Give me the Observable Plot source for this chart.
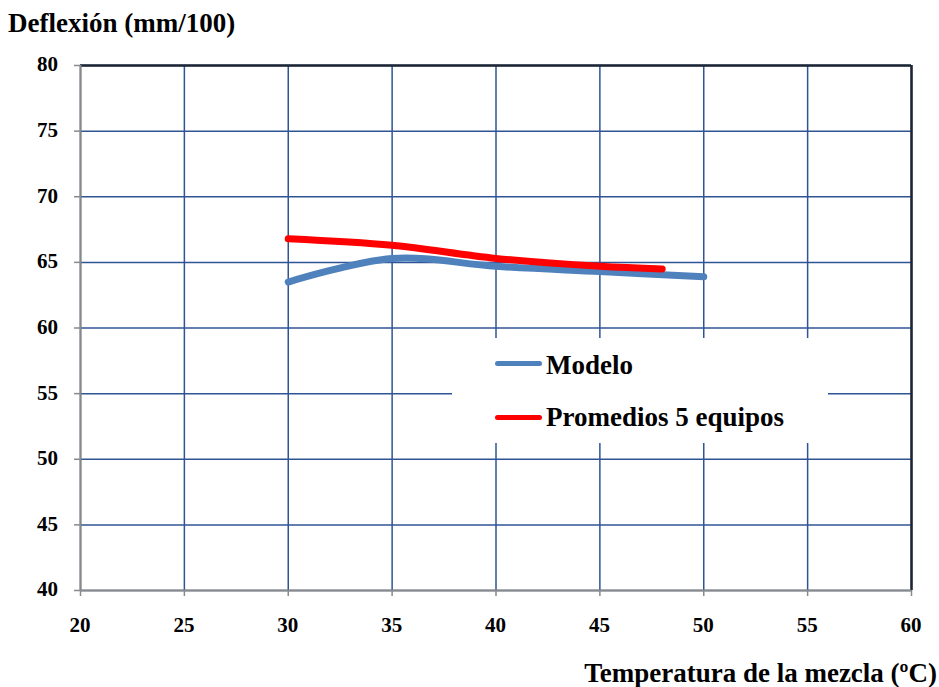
<!DOCTYPE html>
<html>
<head>
<meta charset="utf-8">
<script src="https://cdn.jsdelivr.net/npm/d3@7"></script>
<script src="https://cdn.jsdelivr.net/npm/@observablehq/plot@0.6"></script>
<style>
  html, body { margin: 0; padding: 0; background: #fff; }
  #wrap { position: relative; width: 939px; height: 687px; font-family: "Liberation Serif", "Times New Roman", serif; font-weight: bold; color: #000; }
  #title { position: absolute; left: 8px; top: 10px; font-size: 27px; line-height: 1; white-space: nowrap; }
  #xlabel { position: absolute; right: 2px; top: 660px; font-size: 27px; line-height: 1; white-space: nowrap; }
  #legend { position: absolute; left: 452px; top: 338px; width: 376px; height: 105px; background: #fff; }
  .swatch { position: absolute; left: 43px; width: 47px; height: 5px; border-radius: 3px; }
  .ltext { position: absolute; left: 94px; font-size: 27px; line-height: 1; white-space: nowrap; }
  .tick { position: absolute; font-size: 21px; line-height: 1; white-space: nowrap; }
</style>
</head>
<body>
<div id="wrap">
  <div id="chart"></div>
  <div id="ticks"></div>
  <div id="title">Deflexión (mm/100)</div>
  <div id="xlabel">Temperatura de la mezcla (ºC)</div>
  <div id="legend"></div>
</div>
<script>
const modelTemp = [30, 35, 40, 45, 50];
const modelDefl = [63.5, 65.3, 64.7, 64.3, 63.9];
const avgTemp = [30, 35, 40, 45, 48];
const avgDefl = [66.8, 66.3, 65.3, 64.7, 64.5];
const xTicks = [20, 25, 30, 35, 40, 45, 50, 55, 60];
const yTicks = [40, 45, 50, 55, 60, 65, 70, 75, 80];
const seriesNames = ["Modelo", "Promedios 5 equipos"];
const seriesColors = ["#4f81bd", "#ff0000"];

const model = modelTemp.map((t, i) => ({t, d: modelDefl[i]}));
const avg = avgTemp.map((t, i) => ({t, d: avgDefl[i]}));

const gridColor = "#2f5496";
const axisGray = "#898989";
const frameDark = "#1c2533";

const chart = Plot.plot({
  width: 939,
  height: 687,
  marginLeft: 80,
  marginRight: 28,
  marginTop: 65,
  marginBottom: 97,
  x: { domain: [20, 60], ticks: xTicks },
  y: { domain: [40, 80], ticks: yTicks },
  marks: [
    Plot.gridX(xTicks, { stroke: gridColor, strokeOpacity: 1, strokeWidth: 1.5 }),
    Plot.gridY(yTicks, { stroke: gridColor, strokeOpacity: 1, strokeWidth: 1.5 }),
    Plot.ruleX([60], { stroke: frameDark, strokeWidth: 2.5 }),
    Plot.ruleY([80], { stroke: frameDark, strokeWidth: 2.5 }),
    Plot.ruleX([20], { stroke: axisGray, strokeWidth: 2 }),
    Plot.ruleY([40], { stroke: axisGray, strokeWidth: 2 }),
    Plot.axisX(xTicks, { tickSize: 6, stroke: axisGray, strokeWidth: 1.5, tickFormat: () => "", label: null }),
    Plot.axisY(yTicks, { tickSize: 6, stroke: axisGray, strokeWidth: 1.5, tickFormat: () => "", label: null }),
    Plot.line(model, { x: "t", y: "d", stroke: seriesColors[0], strokeWidth: 7, curve: "catmull-rom", strokeLinecap: "round" }),
    Plot.line(avg, { x: "t", y: "d", stroke: seriesColors[1], strokeWidth: 7, curve: "catmull-rom", strokeLinecap: "round" })
  ]
});
// remove any (empty) svg tick texts
d3.select(chart).selectAll("text").remove();
document.getElementById("chart").appendChild(chart);

// tick labels positioned with Plot's own scales
const sx = chart.scale("x"), sy = chart.scale("y");
const ticksDiv = document.getElementById("ticks");
xTicks.forEach(v => {
  const d = document.createElement("div");
  d.className = "tick";
  d.textContent = String(v);
  d.style.left = sx.apply(v) + "px";
  d.style.top = "615px";
  d.style.transform = "translateX(-50%)";
  ticksDiv.appendChild(d);
});
yTicks.forEach(v => {
  const d = document.createElement("div");
  d.className = "tick";
  d.textContent = String(v);
  d.style.right = (939 - 58) + "px";
  d.style.top = (sy.apply(v) - 10.6) + "px";
  d.style.textAlign = "right";
  ticksDiv.appendChild(d);
});

const legend = document.getElementById("legend");
const swatchTops = [23, 77];
const textTops = [14, 66];
seriesNames.forEach((name, i) => {
  const s = document.createElement("div");
  s.className = "swatch";
  s.style.top = swatchTops[i] + "px";
  s.style.background = seriesColors[i];
  const t = document.createElement("div");
  t.className = "ltext";
  t.style.top = textTops[i] + "px";
  t.textContent = name;
  legend.appendChild(s); legend.appendChild(t);
});
</script>
</body>
</html>
